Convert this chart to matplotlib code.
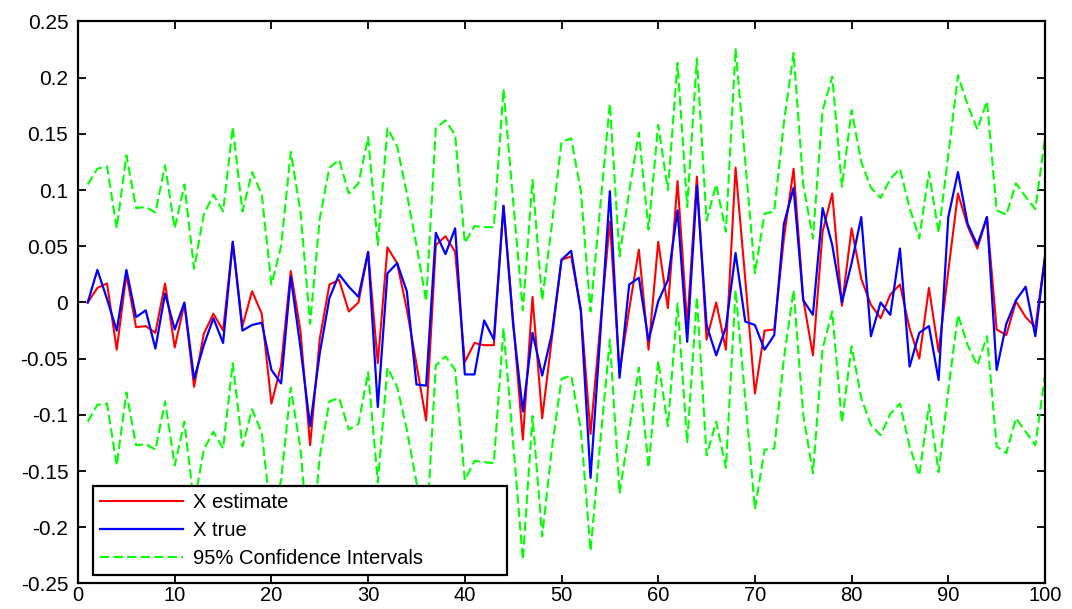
import matplotlib
matplotlib.use('Agg')
import matplotlib.pyplot as plt

plt.rcParams['font.family'] = ['Liberation Sans', 'DejaVu Sans']

# values, steps 1..100
x_estimate = [0.000, 0.013, 0.017, -0.042, 0.025, -0.022, -0.021, -0.027, 0.017, -0.040,
              -0.001, -0.075, -0.028, -0.010, -0.025, 0.054, -0.021, 0.010, -0.010, -0.090,
              -0.056, 0.028, -0.025, -0.127, -0.032, 0.016, 0.020, -0.008, 0.000, 0.045,
              -0.054, 0.049, 0.035, -0.006, -0.055, -0.105, 0.051, 0.059, 0.045, -0.053,
              -0.036, -0.038, -0.038, 0.086, -0.016, -0.122, 0.005, -0.103, -0.032, 0.038,
              0.041, -0.006, -0.117, -0.021, 0.072, -0.062, -0.006, 0.047, -0.042, 0.054,
              -0.005, 0.108, -0.020, 0.112, -0.033, 0.000, -0.042, 0.120, 0.021, -0.081,
              -0.025, -0.024, 0.057, 0.119, 0.003, -0.047, 0.063, 0.097, -0.003, 0.066,
              0.021, -0.002, -0.014, 0.007, 0.016, -0.023, -0.050, 0.013, -0.044, 0.028,
              0.097, 0.068, 0.048, 0.076, -0.024, -0.029, 0.001, -0.013, -0.022, 0.040]

x_true = [0.000, 0.029, 0.003, -0.025, 0.029, -0.013, -0.007, -0.041, 0.008, -0.024,
          0.000, -0.068, -0.038, -0.014, -0.036, 0.054, -0.025, -0.020, -0.018, -0.060,
          -0.072, 0.023, -0.040, -0.110, -0.045, 0.004, 0.025, 0.014, 0.005, 0.045,
          -0.093, 0.026, 0.035, 0.010, -0.073, -0.074, 0.062, 0.043, 0.066, -0.064,
          -0.064, -0.016, -0.033, 0.086, -0.020, -0.097, -0.027, -0.065, -0.028, 0.038,
          0.046, -0.008, -0.156, -0.030, 0.099, -0.067, 0.016, 0.022, -0.034, 0.001,
          0.020, 0.082, -0.035, 0.104, -0.020, -0.047, -0.022, 0.044, -0.017, -0.020,
          -0.042, -0.029, 0.070, 0.102, 0.002, -0.011, 0.084, 0.051, 0.000, 0.035,
          0.076, -0.030, 0.000, -0.011, 0.048, -0.057, -0.027, -0.021, -0.069, 0.076,
          0.116, 0.070, 0.051, 0.076, -0.060, -0.019, 0.002, 0.014, -0.030, 0.041]

ci_upper = [0.105, 0.119, 0.121, 0.066, 0.131, 0.084, 0.085, 0.080, 0.122, 0.066,
            0.105, 0.030, 0.078, 0.096, 0.081, 0.156, 0.081, 0.116, 0.096, 0.016,
            0.050, 0.134, 0.081, -0.019, 0.075, 0.120, 0.127, 0.097, 0.106, 0.147,
            0.051, 0.155, 0.139, 0.097, 0.051, 0.001, 0.155, 0.162, 0.149, 0.053,
            0.068, 0.067, 0.067, 0.190, 0.090, -0.007, 0.109, 0.002, 0.069, 0.143,
            0.146, 0.099, -0.008, 0.085, 0.177, 0.041, 0.099, 0.151, 0.065, 0.158,
            0.100, 0.213, 0.085, 0.217, 0.073, 0.105, 0.063, 0.226, 0.126, 0.026,
            0.079, 0.081, 0.160, 0.222, 0.105, 0.057, 0.171, 0.201, 0.103, 0.171,
            0.125, 0.102, 0.093, 0.110, 0.119, 0.084, 0.057, 0.116, 0.062, 0.131,
            0.202, 0.176, 0.154, 0.179, 0.082, 0.078, 0.106, 0.094, 0.083, 0.146]

ci_lower = [-0.106, -0.091, -0.090, -0.145, -0.080, -0.127, -0.126, -0.131, -0.088, -0.145,
            -0.106, -0.180, -0.131, -0.115, -0.130, -0.054, -0.128, -0.095, -0.116, -0.194,
            -0.158, -0.076, -0.130, -0.230, -0.137, -0.088, -0.085, -0.113, -0.108, -0.062,
            -0.160, -0.058, -0.075, -0.113, -0.160, -0.209, -0.056, -0.048, -0.060, -0.158,
            -0.141, -0.142, -0.143, -0.023, -0.125, -0.229, -0.101, -0.208, -0.130, -0.068,
            -0.065, -0.113, -0.221, -0.125, -0.033, -0.170, -0.113, -0.058, -0.147, -0.052,
            -0.110, -0.001, -0.125, 0.005, -0.136, -0.106, -0.147, 0.011, -0.085, -0.184,
            -0.131, -0.130, -0.050, 0.011, -0.100, -0.152, -0.041, -0.008, -0.107, -0.039,
            -0.085, -0.109, -0.118, -0.099, -0.090, -0.128, -0.154, -0.091, -0.151, -0.078,
            -0.011, -0.038, -0.056, -0.030, -0.128, -0.134, -0.103, -0.115, -0.127, -0.065]

steps = list(range(1, len(x_estimate) + 1))

xticks = list(range(0, 101, 10))
yticks = [0.25, 0.2, 0.15, 0.1, 0.05, 0, -0.05, -0.1, -0.15, -0.2, -0.25]
ytick_labels = ['0.25', '0.2', '0.15', '0.1', '0.05', '0', '-0.05', '-0.1', '-0.15', '-0.2', '-0.25']

fig = plt.figure(figsize=(10.72, 6.09), dpi=100)
ax = fig.add_axes([0.0728, 0.0419, 0.902, 0.9228])

ax.plot(steps, x_estimate, color='#ff0000', lw=1.5, label='X estimate')
ax.plot(steps, x_true, color='#0000ff', lw=1.6, label='X true')
ax.plot(steps, ci_upper, color='#00ff00', lw=1.5, dashes=(4.5, 2), label='95% Confidence Intervals')
ax.plot(steps, ci_lower, color='#00ff00', lw=1.5, dashes=(4.5, 2))

ax.set_xlim(0, 100)
ax.set_ylim(-0.25, 0.25)
ax.set_xticks(xticks)
ax.set_yticks(yticks)
ax.set_yticklabels(ytick_labels)
ax.tick_params(direction='in', top=True, right=True, length=6, width=1.3)
ax.tick_params(axis='y', labelsize=15, pad=7)
ax.tick_params(axis='x', labelsize=14.5, pad=2)
for s in ax.spines.values():
    s.set_linewidth(1.6)

# legend box: lower left, width
leg = ax.legend(loc='lower left', bbox_to_anchor=(0.0155, 0.015, 0.428, 0.16),
                mode='expand', borderaxespad=0, fontsize=14.5, handlelength=4.1,
                handletextpad=0.5, labelspacing=0.45, borderpad=0.35,
                fancybox=False, framealpha=1, edgecolor='black')
leg.get_frame().set_linewidth(1.6)

plt.savefig('out.png', dpi=100)
